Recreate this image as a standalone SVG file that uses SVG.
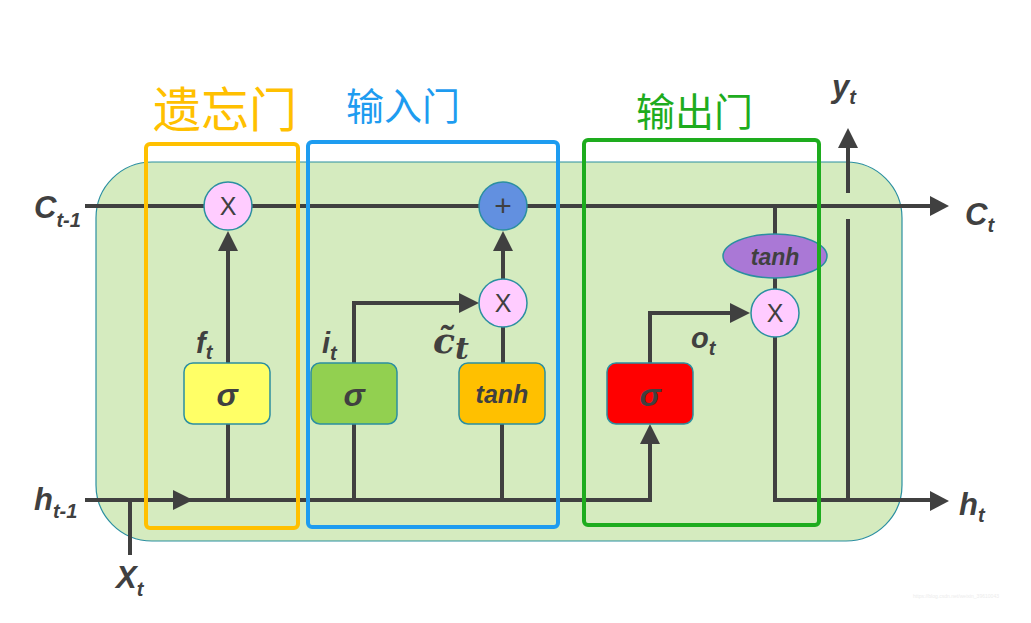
<svg xmlns="http://www.w3.org/2000/svg" width="1031" height="623" viewBox="0 0 1031 623">
<defs>
<style>
.bg{fill:#d5ebbf;stroke:#2b8fa0;stroke-width:1.2}
.ln{fill:none;stroke:#404040;stroke-width:4}
.ah{fill:#404040}
.box{stroke:#2b8fa0;stroke-width:1.5}
.circ{fill:#ffccff;stroke:#2b8fa0;stroke-width:1.5}
.lbl{font-family:"Liberation Sans",Arial,sans-serif;font-weight:bold;font-style:italic;fill:#404040}
.op{font-family:"Liberation Sans",Arial,sans-serif;fill:#404040;text-anchor:middle}
.fn{font-family:"Liberation Sans",Arial,sans-serif;font-weight:bold;font-style:italic;fill:#404040;text-anchor:middle}
.cjk{font-family:"Noto Sans CJK SC","Noto Sans",sans-serif}
.gate{fill:none;stroke-width:4;}
</style>
</defs>
<rect x="0" y="0" width="1031" height="623" fill="#ffffff"/>
<rect id="cell" class="bg" x="96" y="162" width="806" height="379" rx="56" ry="56"/>

<g id="connectors">
<line class="ln" x1="85" y1="206" x2="932" y2="206"/>
<polygon class="ah" points="930,196 949,206 930,216"/>
<polyline class="ln" points="85,500 650,500 650,442"/>
<polygon class="ah" points="640,444 650,424 660,444"/>
<polygon class="ah" points="173,490 193,500 173,510"/>
<line class="ln" x1="130" y1="500" x2="130" y2="555"/>
<line class="ln" x1="228" y1="500" x2="228" y2="424"/>
<line class="ln" x1="228" y1="363" x2="228" y2="250"/>
<polygon class="ah" points="218,251 228,231 238,251"/>
<line class="ln" x1="354" y1="500" x2="354" y2="424"/>
<polyline class="ln" points="354,363 354,303 461,303"/>
<polygon class="ah" points="459,293 479,303 459,313"/>
<line class="ln" x1="502" y1="500" x2="502" y2="424"/>
<line class="ln" x1="503" y1="363" x2="503" y2="327"/>
<line class="ln" x1="503" y1="279" x2="503" y2="250"/>
<polygon class="ah" points="493,251 503,231 513,251"/>
<polyline class="ln" points="650,363 650,313 732,313"/>
<polygon class="ah" points="730,303 750,313 730,323"/>
<line class="ln" x1="775" y1="206" x2="775" y2="235"/>
<line class="ln" x1="775" y1="277" x2="775" y2="290"/>
<polyline class="ln" points="775,337 775,500 932,500"/>
<polygon class="ah" points="930,491 949,501 930,511"/>
<line class="ln" x1="848" y1="500" x2="848" y2="219"/>
<line class="ln" x1="848" y1="193" x2="848" y2="146"/>
<polygon class="ah" points="838,148 848,128 858,148"/>
</g>

<g id="mul_forget">
<circle class="circ" cx="228" cy="206" r="24"/>
<text class="op" x="228" y="215" font-size="25">X</text>
</g>
<g id="add_cell">
<circle class="circ" cx="503" cy="206" r="24" style="fill:#6290e0"/>
<text class="op" x="503" y="216" font-size="30">+</text>
</g>
<g id="mul_input">
<circle class="circ" cx="503" cy="303" r="24"/>
<text class="op" x="503" y="312" font-size="25">X</text>
</g>
<g id="mul_output">
<circle class="circ" cx="775" cy="313" r="24"/>
<text class="op" x="775" y="322" font-size="25">X</text>
</g>
<g id="tanh_out">
<ellipse cx="775" cy="256" rx="52" ry="22" fill="#aa78d6" stroke="#2b8fa0" stroke-width="1.5"/>
<text class="fn" x="775" y="265" font-size="23">tanh</text>
</g>
<g id="sigma_forget">
<rect class="box" x="184" y="363" width="86" height="61" rx="9" fill="#ffff66"/>
<text class="fn" x="227" y="406" font-size="32">σ</text>
</g>
<g id="sigma_input">
<rect class="box" x="311" y="363" width="86" height="61" rx="9" fill="#92d050"/>
<text class="fn" x="354" y="406" font-size="32">σ</text>
</g>
<g id="tanh_input">
<rect class="box" x="459" y="363" width="86" height="61" rx="9" fill="#ffc000"/>
<text class="fn" x="502" y="403" font-size="25">tanh</text>
</g>
<g id="sigma_output">
<rect class="box" x="607" y="363" width="86" height="61" rx="9" fill="#ff0000"/>
<text class="fn" x="650" y="406" font-size="32">σ</text>
</g>

<g id="labels">
<text class="lbl" x="34" y="218" font-size="31">C<tspan font-size="20" dy="9">t-1</tspan></text>
<text class="lbl" x="34" y="510" font-size="31">h<tspan font-size="20" dy="8">t-1</tspan></text>
<text class="lbl" x="116" y="588" font-size="31">X<tspan font-size="20" dy="8">t</tspan></text>
<text class="lbl" x="965" y="225" font-size="31">C<tspan font-size="20" dy="7">t</tspan></text>
<text class="lbl" x="959" y="515" font-size="31">h<tspan font-size="20" dy="7">t</tspan></text>
<text class="lbl" x="832" y="97" font-size="31">y<tspan font-size="20" dy="7">t</tspan></text>
<text class="lbl" x="196" y="353" font-size="29">f<tspan font-size="20" dy="6">t</tspan></text>
<text class="lbl" x="322" y="353" font-size="29">i<tspan font-size="20" dy="7">t</tspan></text>
<text class="lbl" x="691" y="348" font-size="29">o<tspan font-size="20" dy="7">t</tspan></text>
<text x="433" y="353" font-family="'DejaVu Serif','Liberation Serif',serif" font-weight="bold" font-style="italic" font-size="36" fill="#404040">c̃<tspan font-size="30" dy="6">t</tspan></text>
</g>

<g id="gate_forget">
<rect class="gate" x="146" y="144" width="152" height="384" rx="4" stroke="#ffc000"/>
<text class="cjk" x="153" y="127" font-size="48" fill="#ffc000">遗忘门</text>
</g>
<g id="gate_input">
<rect class="gate" x="308" y="142" width="250" height="385" rx="4" stroke="#1e9cf0"/>
<text class="cjk" x="346" y="120" font-size="38" fill="#1e9cf0">输入门</text>
</g>
<g id="gate_output">
<rect class="gate" x="584" y="140" width="235" height="385" rx="4" stroke="#1eac1e"/>
<text class="cjk" x="636" y="126" font-size="39" fill="#1eac1e">输出门</text>
</g>
<text x="913" y="598" font-family="'Liberation Sans',Arial,sans-serif" font-size="5" fill="#ececec" textLength="86">https://blog.csdn.net/weixin_39610043</text>
</svg>
